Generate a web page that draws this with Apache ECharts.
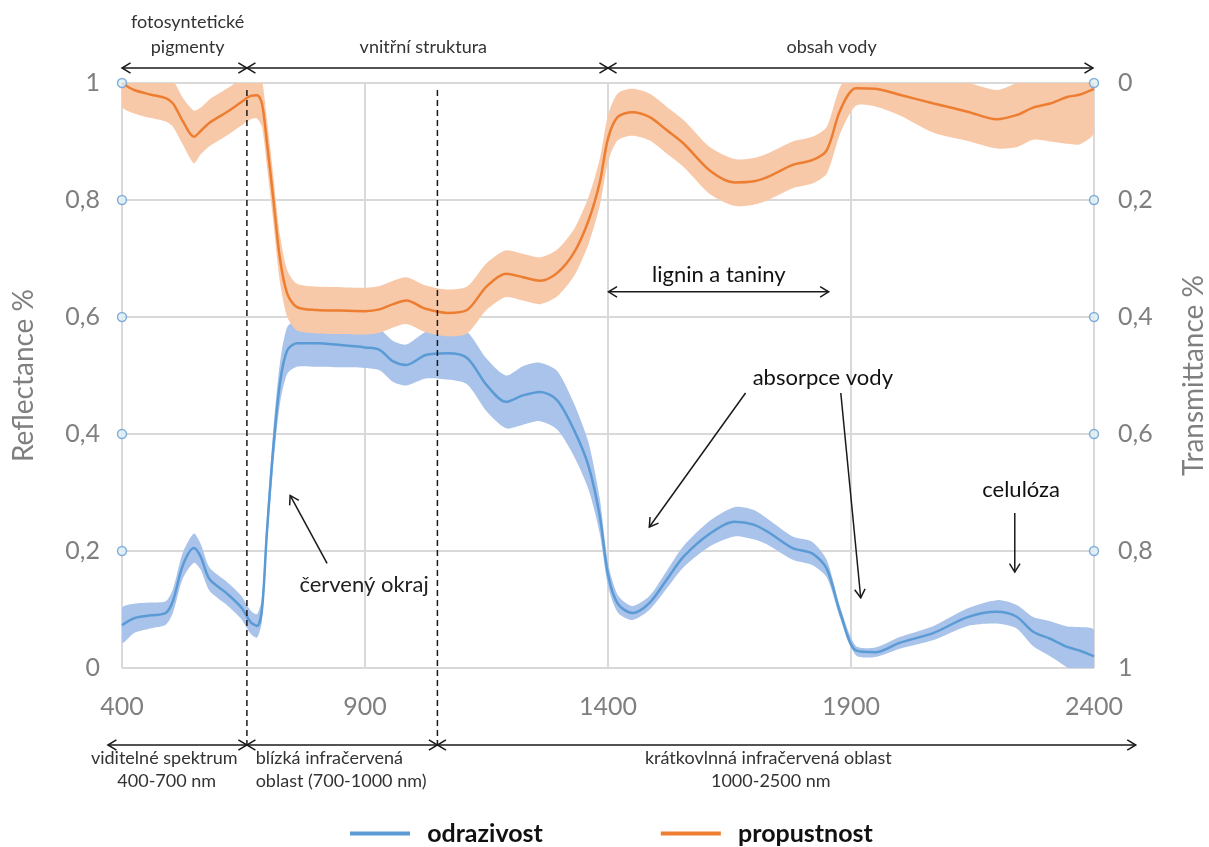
<!DOCTYPE html>
<html><head><meta charset="utf-8">
<script src="https://cdn.jsdelivr.net/npm/echarts@6/dist/echarts.min.js"></script>
<style>html,body{margin:0;padding:0;background:#fff}#c{width:1209px;height:847px}</style>
</head><body><div id="c"></div>
<script>
// ---- data ----
const wavelengths = [400,425,460,490,505,525,548,562,580,615,645,665,678,688,698,711,725,740,760,800,850,900,930,958,985,1025,1070,1110,1150,1190,1225,1260,1295,1330,1360,1383,1400,1420,1450,1485,1520,1555,1610,1660,1700,1730,1780,1820,1850,1878,1910,1950,2000,2070,2140,2200,2240,2275,2310,2345,2370,2400];
const reflectance = [0.073,0.085,0.09,0.094,0.115,0.175,0.205,0.19,0.152,0.128,0.104,0.078,0.072,0.1,0.23,0.373,0.487,0.543,0.555,0.555,0.552,0.548,0.544,0.524,0.518,0.535,0.538,0.53,0.484,0.455,0.466,0.472,0.458,0.407,0.345,0.26,0.16,0.11,0.094,0.111,0.15,0.19,0.23,0.25,0.245,0.232,0.205,0.196,0.17,0.094,0.03,0.027,0.043,0.06,0.087,0.096,0.088,0.062,0.05,0.036,0.03,0.02];
const reflectanceSpread = [0.03,0.025,0.022,0.02,0.02,0.022,0.025,0.022,0.02,0.02,0.02,0.02,0.02,0.02,0.025,0.03,0.035,0.04,0.04,0.04,0.038,0.035,0.035,0.035,0.035,0.04,0.045,0.045,0.045,0.045,0.05,0.05,0.05,0.045,0.04,0.03,0.02,0.015,0.012,0.012,0.015,0.018,0.022,0.025,0.025,0.022,0.02,0.02,0.015,0.01,0.008,0.008,0.01,0.012,0.015,0.02,0.02,0.025,0.03,0.035,0.04,0.045];
const transmittance = [0.0,0.012,0.02,0.026,0.035,0.065,0.092,0.082,0.068,0.05,0.033,0.022,0.021,0.035,0.1,0.195,0.3,0.36,0.383,0.388,0.389,0.39,0.387,0.378,0.372,0.386,0.393,0.388,0.348,0.326,0.332,0.338,0.325,0.29,0.235,0.17,0.095,0.058,0.05,0.058,0.08,0.103,0.15,0.17,0.168,0.16,0.14,0.132,0.115,0.046,0.009,0.01,0.02,0.035,0.049,0.062,0.055,0.042,0.035,0.024,0.02,0.01];
const transmittanceSpread = [0.04,0.04,0.04,0.04,0.04,0.04,0.045,0.04,0.04,0.04,0.04,0.04,0.04,0.04,0.04,0.04,0.04,0.04,0.04,0.04,0.04,0.04,0.04,0.04,0.04,0.04,0.04,0.04,0.04,0.04,0.04,0.04,0.04,0.04,0.04,0.04,0.04,0.04,0.04,0.04,0.04,0.04,0.04,0.04,0.04,0.04,0.04,0.04,0.04,0.04,0.03,0.03,0.035,0.05,0.05,0.05,0.055,0.055,0.065,0.08,0.085,0.075];
const xTickLabels = [400, 900, 1400, 1900, 2400];
const markerValues = [0.2, 0.4, 0.6, 0.8, 1.0];
const seriesNames = ['odrazivost', 'propustnost'];

// ---- chart ----
const FONT = 'Lato, "Open Sans", sans-serif';
const chart = echarts.init(document.getElementById('c'), null, {renderer: 'canvas'});
const pairs = (xs, ys) => xs.map((x, i) => [x, ys[i]]);
const fmt = v => (Math.round(v * 10) / 10).toString().replace('.', ',');

const markerData = [];
markerValues.forEach(v => { markerData.push([xTickLabels[0], v]); markerData.push([xTickLabels[xTickLabels.length - 1], v]); });

// band series: one filled polygon between (value - spread) and (value + spread), mapped via the axis scales
function bandSeries(name, axisIdx, values, spread, color, z) {
  const data = wavelengths.map((w, i) => [w, values[i] - spread[i], values[i] + spread[i]]);
  return {
    name, type: 'custom', yAxisIndex: axisIdx, silent: true, clip: true, z,
    encode: {x: 0, y: [1, 2]},
    data,
    renderItem: (params, api) => {
      if (params.dataIndex !== 0) return null;
      const up = [], lo = [];
      for (let i = 0; i < data.length; i++) {
        up.push(api.coord([data[i][0], data[i][2]]));
        lo.push(api.coord([data[i][0], data[i][1]]));
      }
      const pts = up.concat(lo.reverse());
      const cs = params.coordSys;
      return {
        type: 'polygon', shape: {points: pts, smooth: 0.25},
        style: {fill: color, stroke: null},
        clipPath: {type: 'rect', shape: {x: cs.x, y: cs.y, width: cs.width, height: cs.height}}
      };
    }
  };
}

const AXIS_TXT = {fontSize: 25, color: '#7f7f7f', fontFamily: FONT};
const option = {
  animation: false,
  backgroundColor: '#fff',
  grid: {left: 122, right: 115, top: 83, bottom: 179, containLabel: false, outerBoundsMode: 'none'},
  xAxis: {
    type: 'value', min: 400, max: 2400, interval: 500,
    axisLine: {show: false}, axisTick: {show: false},
    axisLabel: Object.assign({margin: 26, formatter: v => String(v)}, AXIS_TXT),
    splitLine: {show: true, lineStyle: {color: '#d9d9d9', width: 2}}
  },
  yAxis: [{
    type: 'value', min: 0, max: 1, interval: 0.2,
    name: 'Reflectance %', nameLocation: 'middle', nameRotate: 90, nameGap: 84,
    nameTextStyle: {fontSize: 28, color: '#7f7f7f', fontFamily: FONT},
    axisLine: {show: false}, axisTick: {show: false},
    axisLabel: Object.assign({margin: 22, formatter: fmt}, AXIS_TXT),
    splitLine: {show: true, lineStyle: {color: '#d9d9d9', width: 2}}
  }, {
    type: 'value', min: 0, max: 1, interval: 0.2, inverse: true, position: 'right',
    name: 'Transmittance %', nameLocation: 'middle', nameRotate: 90, nameGap: 86,
    nameTextStyle: {fontSize: 28, color: '#7f7f7f', fontFamily: FONT},
    axisLine: {show: false}, axisTick: {show: false},
    axisLabel: Object.assign({margin: 24, formatter: fmt}, AXIS_TXT),
    splitLine: {show: false}
  }],
  legend: {
    data: seriesNames, left: 345, top: 816, icon: 'rect', itemWidth: 60, itemHeight: 4, itemGap: 118,
    formatter: n => '  ' + n,
    textStyle: {fontSize: 25, fontWeight: 'bold', color: '#111', fontFamily: FONT}
  },
  series: [
    bandSeries('rBand', 0, reflectance, reflectanceSpread, '#a9c3ea', 1),
    bandSeries('tBand', 1, transmittance, transmittanceSpread, '#f8c9a9', 2),
    {name: seriesNames[0], type: 'line', yAxisIndex: 0, symbol: 'none', smooth: 0.3, color: '#5b9bd5',
      lineStyle: {width: 2.5, color: '#5b9bd5'}, data: pairs(wavelengths, reflectance), z: 3},
    {name: seriesNames[1], type: 'line', yAxisIndex: 1, symbol: 'none', smooth: 0.3, color: '#ed7d31',
      lineStyle: {width: 2.5, color: '#ed7d31'}, data: pairs(wavelengths, transmittance), z: 3},
    {name: 'ticks', type: 'scatter', yAxisIndex: 0, symbol: 'circle', symbolSize: 9, clip: false, silent: true,
      itemStyle: {color: '#dff0f4', borderColor: '#6a9fd4', borderWidth: 1.5}, data: markerData, z: 5}
  ]
};
chart.setOption(option);

// ---- annotations (positioned in data space) ----
const px = nm => chart.convertToPixel({xAxisIndex: 0}, nm);
const py = v => chart.convertToPixel({yAxisIndex: 0}, v);
const G = [];
const INK = '#1a1a1a';
function seg(x1, y1, x2, y2, w, dash) {
  G.push({type: 'line', shape: {x1, y1, x2, y2}, style: {stroke: INK, lineWidth: w || 1.5, lineDash: dash || null}, z: 10});
}
function head(x, y, ang, size) {
  const s = size || 10, a = 0.55;
  G.push({type: 'polyline', shape: {points: [
    [x - s * Math.cos(ang - a), y - s * Math.sin(ang - a)], [x, y], [x - s * Math.cos(ang + a), y - s * Math.sin(ang + a)]]},
    style: {stroke: INK, lineWidth: 1.5, fill: null}, z: 10});
}
function arrow(x1, y1, x2, y2, both) {
  seg(x1, y1, x2, y2);
  const ang = Math.atan2(y2 - y1, x2 - x1);
  head(x2, y2, ang);
  if (both) head(x1, y1, ang + Math.PI);
}
function text(x, y, str, size, align, color, weight) {
  G.push({type: 'text', x, y, style: {text: str, fontSize: size, fontFamily: FONT, fill: color || '#333',
    align: align || 'center', verticalAlign: 'middle', fontWeight: weight || 'normal'}, z: 11});
}

// top region arrows
const topBounds = [400, 657, 1400, 2398];
const topY = 68;
for (let i = 0; i < topBounds.length - 1; i++) arrow(px(topBounds[i]), topY, px(topBounds[i + 1]), topY, true);
text(px(535), 22, 'fotosyntetické', 18);
text(px(535), 47, 'pigmenty', 18);
text(px(1020), 47, 'vnitřní struktura', 18);
text(px(1860), 47, 'obsah vody', 18);

// dashed boundaries
[657, 1049].forEach(nm => seg(px(nm), 90, px(nm), 748, 1.5, [6, 4]));

// bottom spectrum arrows
const botBounds = [371, 657, 1049, 2486];
const botY = 745;
seg(px(botBounds[0]), botY, px(botBounds[3]), botY);
head(px(botBounds[0]), botY, Math.PI);
head(px(657), botY, 0); head(px(657), botY, Math.PI);
head(px(1049), botY, 0); head(px(1049), botY, Math.PI);
head(px(botBounds[3]), botY, 0);
text(px(487), 758, 'viditelné spektrum', 18);
text(px(492), 781, '400-700 nm', 18);
text(px(675), 758, 'blízká infračervená', 18, 'left');
text(px(675), 781, 'oblast (700-1000 nm)', 18, 'left');
text(px(1730), 758, 'krátkovlnná infračervená oblast', 18);
text(px(1735), 781, '1000-2500 nm', 18);

// in-plot notes
text(px(1628), py(0.672), 'lignin a taniny', 22, 'center', '#111');
arrow(px(1401), py(0.643), px(1854), py(0.643), true);
text(px(1842), py(0.496), 'absorpce vody', 22, 'center', '#111');
arrow(px(1683), py(0.47), px(1485), py(0.241));
arrow(px(1879), py(0.47), px(1920), py(0.12));
text(px(2250), py(0.304), 'celulóza', 22, 'center', '#111');
arrow(px(2237), py(0.265), px(2237), py(0.164));
text(px(898), py(0.142), 'červený okraj', 22, 'center', '#222');
arrow(px(822), py(0.179), px(746), py(0.295));

chart.setOption({graphic: {elements: G}});
</script></body></html>
